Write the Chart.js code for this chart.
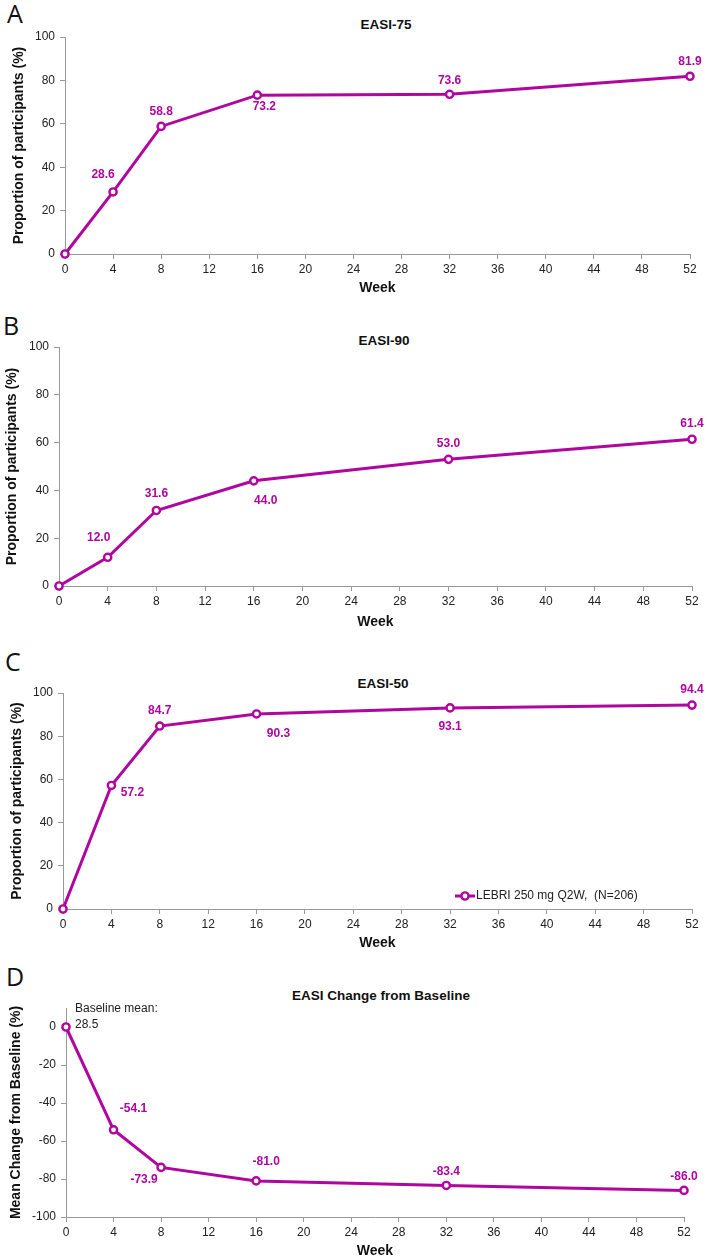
<!DOCTYPE html>
<html><head><meta charset="utf-8">
<script src="https://cdn.jsdelivr.net/npm/chart.js@4.4.0/dist/chart.umd.min.js"></script>
<style>
body{margin:0;background:#fff;width:708px;height:1260px;position:relative;overflow:hidden;font-family:'Liberation Sans',Arial,sans-serif;}
.wrap{position:absolute;left:0;width:708px;}
.letter{position:absolute;font-family:'Open Sans',sans-serif;font-size:25px;color:#111;line-height:1;}
.title{position:absolute;font-weight:bold;font-size:13.5px;color:#111;transform:translate(-50%,-50%);white-space:nowrap;}
</style></head>
<body>
<div class="letter" style="left:7px;top:1px;">A</div>
<div class="letter" style="left:3px;top:313px;">B</div>
<div class="letter" style="left:5px;top:649px;">C</div>
<div class="letter" style="left:6px;top:964px;">D</div>
<div class="title" style="left:386px;top:24px;">EASI-75</div>
<div class="title" style="left:384px;top:340px;">EASI-90</div>
<div class="title" style="left:383px;top:683px;">EASI-50</div>
<div class="title" style="left:381px;top:995px;">EASI Change from Baseline</div>
<div class="wrap" style="top:0;height:300px;"><canvas id="cA"></canvas></div>
<div class="wrap" style="top:300px;height:340px;"><canvas id="cB"></canvas></div>
<div class="wrap" style="top:640px;height:315px;"><canvas id="cC"></canvas></div>
<div class="wrap" style="top:955px;height:305px;"><canvas id="cD"></canvas></div>
<script>
// ---- data ----
const weeks = [0, 4, 8, 16, 32, 52];
const easi75 = [0, 28.6, 58.8, 73.2, 73.6, 81.9];
const easi90 = [0, 12.0, 31.6, 44.0, 53.0, 61.4];
const easi50 = [0, 57.2, 84.7, 90.3, 93.1, 94.4];
const easiChange = [0, -54.1, -73.9, -81.0, -83.4, -86.0];
const seriesLabel = 'LEBRI 250 mg Q2W,  (N=206)';
const baselineNote = ['Baseline mean:', '28.5'];
const weekTickStep = 4;
const pctTickStep = 20;

// label placement (pixel offsets from each point), separate from the data
const offA = [null, [-10,-17], [0,-15], [7,12], [0,-14], [0,-15]];
const offB = [null, [-9,-20], [0,-17], [12,20], [0,-16], [0,-16]];
const offC = [null, [21,7], [0,-15], [22,20], [0,19], [0,-15]];
const offD = [null, [20,-21], [-17,12], [10,-19], [0,-14], [0,-14]];

const PURPLE = '#B0069F';
const AXIS = '#9a9a9a';
const FONT = "'Liberation Sans', Arial, sans-serif";

const labelPlugin = {
  id: 'vlabels',
  afterDatasetsDraw(chart, args, opts) {
    const ctx = chart.ctx;
    const meta = chart.getDatasetMeta(0);
    const ds = chart.data.datasets[0];
    ctx.save();
    ctx.font = 'bold 12px ' + FONT;
    ctx.fillStyle = PURPLE;
    ctx.textAlign = 'center';
    ctx.textBaseline = 'middle';
    meta.data.forEach((pt, i) => {
      const o = opts.offsets[i];
      if (!o) return;
      ctx.fillText(ds.data[i].y.toFixed(1), pt.x + o[0], pt.y + o[1]);
    });
    if (opts.note) {
      const p0 = meta.data[0];
      ctx.font = '12px ' + FONT;
      ctx.fillStyle = '#222';
      ctx.textAlign = 'left';
      ctx.fillText(opts.note[0], p0.x + 9, p0.y - 18);
      ctx.fillText(opts.note[1], p0.x + 9, p0.y - 2);
    }
    if (opts.legend) {
      const a = chart.chartArea;
      const y = a.bottom - 13;
      const x0 = a.right - 237;
      ctx.strokeStyle = PURPLE;
      ctx.lineWidth = 3;
      ctx.beginPath(); ctx.moveTo(x0, y); ctx.lineTo(x0 + 20, y); ctx.stroke();
      ctx.beginPath(); ctx.arc(x0 + 10, y, 3.6, 0, Math.PI * 2);
      ctx.fillStyle = '#fff'; ctx.fill();
      ctx.lineWidth = 2.4; ctx.stroke();
      ctx.font = '12px ' + FONT;
      ctx.fillStyle = '#222';
      ctx.textAlign = 'left';
      ctx.fillText(ds.label, x0 + 21, y);
    }
    ctx.restore();
  }
};

function makeChart(id, values, cfg) {
  const canvasH = cfg.H;
  const data = weeks.map((w, i) => ({x: w, y: values[i]}));
  return new Chart(document.getElementById(id), {
    type: 'line',
    data: { datasets: [{
      label: seriesLabel,
      data: data,
      borderColor: PURPLE,
      borderWidth: 3,
      pointRadius: 3.6,
      pointBorderWidth: 2.4,
      pointBackgroundColor: '#fff',
      pointBorderColor: PURPLE,
      tension: 0,
      clip: false
    }]},
    options: {
      responsive: true,
      maintainAspectRatio: false,
      animation: false,
      events: [],
      layout: { padding: { top: cfg.top, right: cfg.right, left: 0, bottom: 0 } },
      plugins: {
        legend: { display: false },
        tooltip: { enabled: false },
        vlabels: { offsets: cfg.offsets, note: cfg.note || null, legend: !!cfg.legend }
      },
      scales: {
        x: {
          type: 'linear', min: 0, max: 52,
          afterFit: s => { s.height = cfg.xH; },
          ticks: { stepSize: weekTickStep, color: '#222', font: { family: FONT, size: 12 }, padding: 3, maxRotation: 0 },
          grid: { drawOnChartArea: false, drawTicks: true, tickLength: 5, color: AXIS },
          border: { color: AXIS, width: 1 },
          title: { display: true, text: 'Week', color: '#111', font: { family: FONT, size: 14, weight: 'bold' }, padding: { top: 0, bottom: cfg.wPad } }
        },
        y: {
          type: 'linear', min: cfg.ymin, max: cfg.ymax,
          afterFit: s => { s.width = cfg.left; },
          afterBuildTicks: s => { s.ticks = s.ticks.filter(t => t.value <= cfg.ytop); },
          ticks: { stepSize: pctTickStep, color: '#222', font: { family: FONT, size: 12 }, padding: 5 },
          grid: { drawOnChartArea: false, drawTicks: true, tickLength: 5, color: AXIS },
          border: { color: AXIS, width: 1 },
          title: { display: true, text: cfg.ytitle, color: '#111', font: { family: FONT, size: 14, weight: 'bold' }, padding: { top: cfg.yPad, bottom: 0 } }
        }
      }
    },
    plugins: [labelPlugin]
  });
}

const propTitle = 'Proportion of participants (%)';
makeChart('cA', easi75, { H: 300, top: 37, right: 18, left: 65, xH: 46, wPad: 3.6, yPad: 10.5, ymin: 0, ymax: 100, ytop: 100, ytitle: propTitle, offsets: offA });
makeChart('cB', easi90, { H: 340, top: 47, right: 16, left: 59, xH: 54, wPad: 9.6, yPad: 3.6, ymin: 0, ymax: 100, ytop: 100, ytitle: propTitle, offsets: offB });
makeChart('cC', easi50, { H: 315, top: 53, right: 16, left: 63, xH: 46, wPad: 3.6, yPad: 8.6, ymin: 0, ymax: 100, ytop: 100, ytitle: propTitle, offsets: offC, legend: true });
makeChart('cD', easiChange, { H: 305, top: 53, right: 24, left: 66, xH: 43, wPad: 0, yPad: 7.6, ymin: -100, ymax: 10, ytop: 0, ytitle: 'Mean Change from Baseline (%)', offsets: offD, note: baselineNote });
</script>
</body></html>
